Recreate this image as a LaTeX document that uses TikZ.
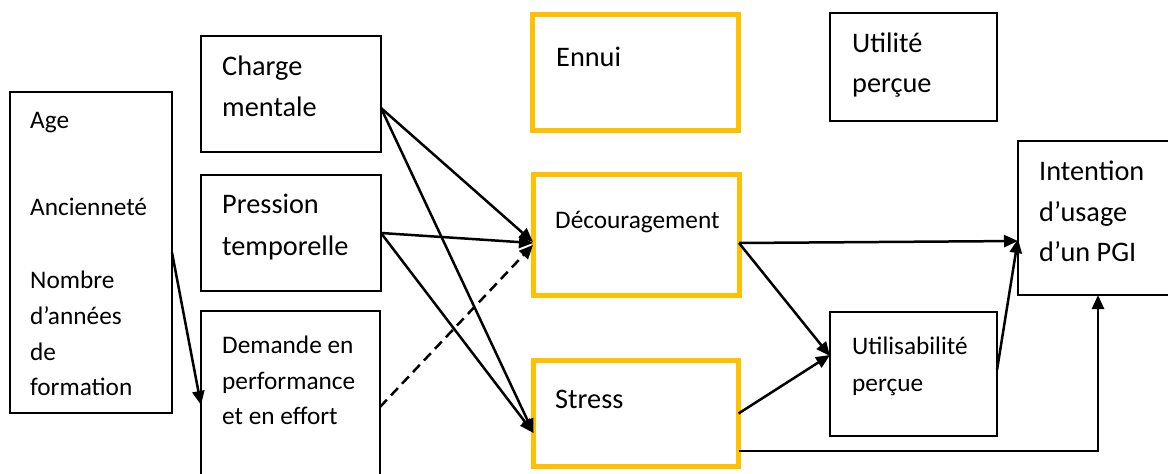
\documentclass[tikz,border=0pt]{standalone}
\usepackage{fontspec}
\setmainfont{Carlito}
\usetikzlibrary{arrows.meta,calc}
\definecolor{boxyellow}{HTML}{FFC000}
\tikzset{
  plainbox/.style={draw=black,line width=1.4pt,inner sep=0pt,outer sep=0pt,rectangle},
  yelbox/.style={draw=boxyellow,line width=5pt,inner sep=0pt,outer sep=0pt,rectangle},
  big/.style={anchor=base west,inner sep=0pt,font=\fontsize{28.3}{34}\selectfont},
  small/.style={anchor=base west,inner sep=0pt,font=\fontsize{25.3}{30}\selectfont},
  link/.style={line width=2.5pt,-{Triangle[length=14pt,width=12pt]}},
}
\begin{document}
\begin{tikzpicture}[x=1pt,y=-1pt]
\useasboundingbox (0,0) rectangle (1168,474);
% boxes
\node[plainbox,minimum width=162pt,minimum height=321pt] (age) at (91,252.5) {};
\node[plainbox,minimum width=180pt,minimum height=116pt] (charge) at (291,94) {};
\node[plainbox,minimum width=180pt,minimum height=116pt] (pression) at (291,233) {};
\node[plainbox,minimum width=179pt,minimum height=180pt] (demande) at (290.5,401) {};
\node[yelbox,minimum width=206pt,minimum height=116pt] (ennui) at (635.5,72.5) {};
\node[yelbox,minimum width=206pt,minimum height=121pt] (decour) at (636,235) {};
\node[yelbox,minimum width=205pt,minimum height=106pt] (stress) at (636,413.5) {};
\node[plainbox,minimum width=167pt,minimum height=108pt] (utilite) at (913.5,67) {};
\node[plainbox,minimum width=167pt,minimum height=124pt] (utilisab) at (913.5,374) {};
\node[plainbox,minimum width=162pt,minimum height=154pt] (intention) at (1099,218) {};
% texts
\node[small] (tage) at (30,128) {Age};
\node[small] (tanc) at (30,215) {Ancienneté};
\node[small] (tnb1) at (30,288) {Nombre};
\node[small] (tnb2) at (30,324) {d’années};
\node[small] (tnb3) at (30,360) {de};
\node[small] (tnb4) at (30,395) {formation};
\node[big] (tch1) at (222,75) {Charge};
\node[big] (tch2) at (222,116) {mentale};
\node[big] (tpr1) at (222,213) {Pression};
\node[big] (tpr2) at (222,255) {temporelle};
\node[small] (tde1) at (222,353) {Demande en};
\node[small] (tde2) at (222,389) {performance};
\node[small] (tde3) at (222,424) {et en effort};
\node[big] (tennui) at (556,66) {Ennui};
\node[small] (tdec) at (555,228) {Découragement};
\node[big] (tstress) at (555,408) {Stress};
\node[big] (tut1) at (852,52) {Utilité};
\node[big] (tut2) at (852,92) {perçue};
\node[small] (tus1) at (852,354) {Utilisabilité};
\node[small] (tus2) at (852,391) {perçue};
\node[big] (tin1) at (1039,180) {Intention};
\node[big] (tin2) at (1039,221) {d’usage};
\node[big] (tin3) at (1039,261) {d’un PGI};
% connectors
\draw[link] (age.east) -- ([yshift=-4pt]demande.west);
\draw[link] ([yshift=-14pt]charge.east) -- ([yshift=-7pt]decour.west);
\draw[link] ([yshift=-14pt]charge.east) -- ([yshift=-19.5pt]stress.west);
\draw[link] (pression.east) -- ([yshift=-8pt]decour.west);
\draw[link] (pression.east) -- ([yshift=-19.5pt]stress.west);
\draw[link,dashed,dash pattern=on 10pt off 6pt] ([yshift=-6pt]demande.east) -- ([yshift=-10pt]decour.west);
\draw[link] ([yshift=-8pt]decour.east) -- ([yshift=-23pt]intention.west);
\draw[link] ([yshift=-8pt]decour.east) -- ([yshift=18pt]utilisab.west);
\draw[link] (stress.east) -- ([yshift=19pt]utilisab.west);
\draw[link] ([yshift=4pt]utilisab.east) -- ([yshift=-21pt]intention.west);
\draw[link] ([yshift=-37.5pt]stress.east) -| ([xshift=-1pt]intention.south);
\end{tikzpicture}
\end{document}
